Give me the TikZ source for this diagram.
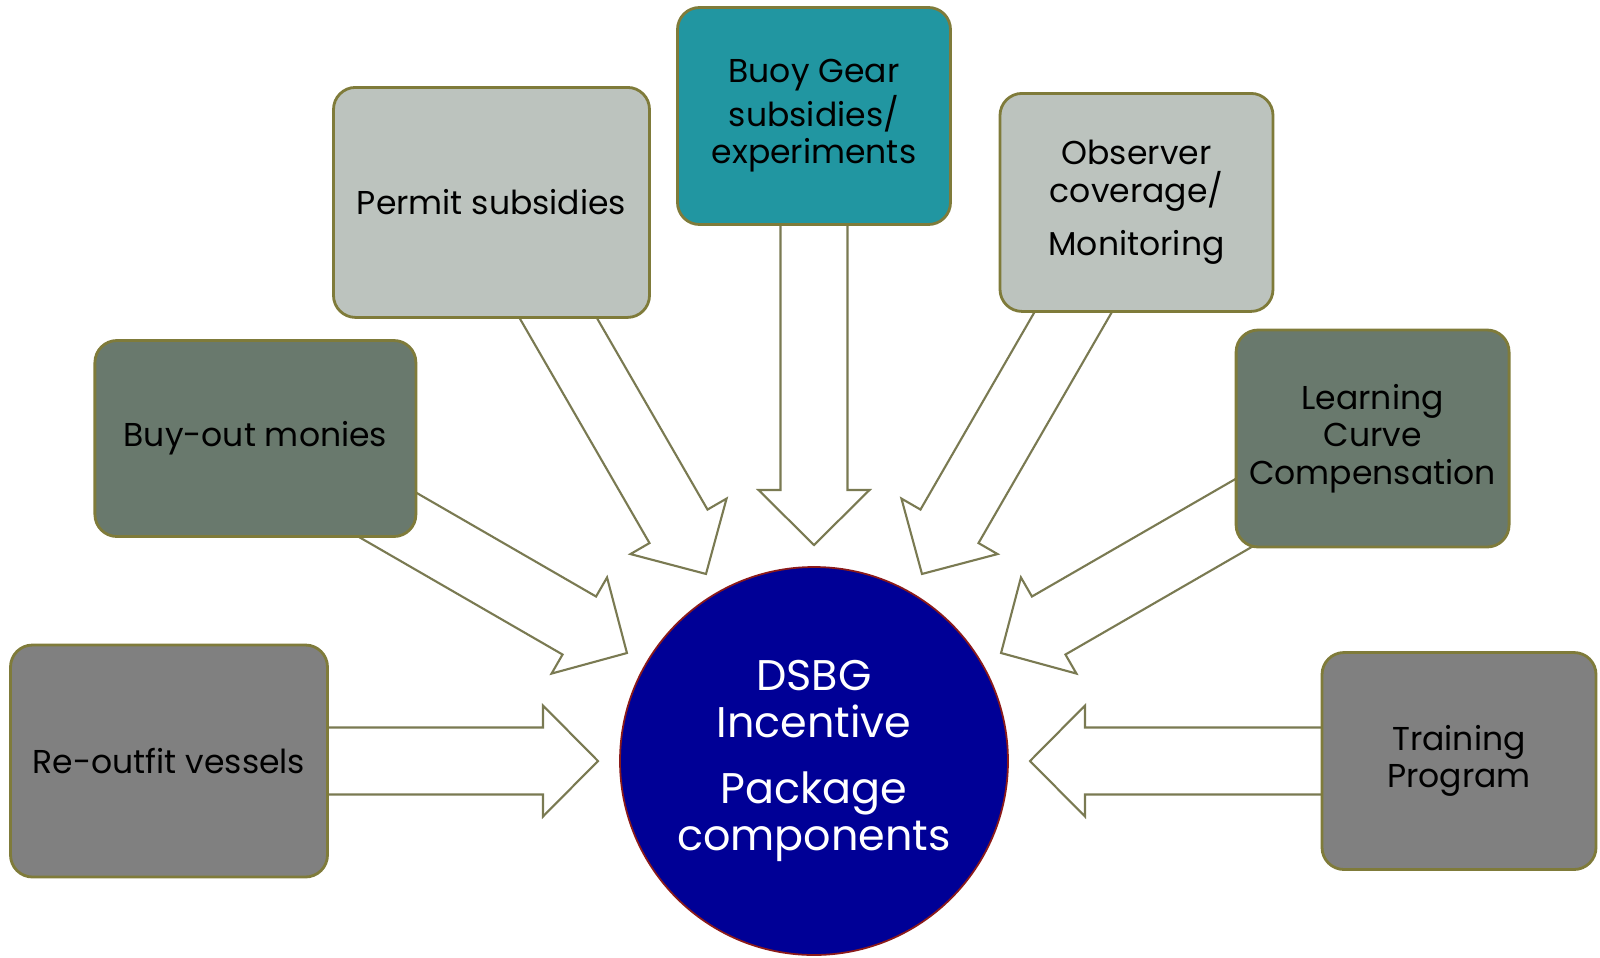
\documentclass[tikz,border=0pt]{standalone}
\usepackage{fontspec}
\setmainfont{Poppins}
\usepackage{tikz}
\usetikzlibrary{calc}
\usetikzlibrary{backgrounds}
\definecolor{boxline}{HTML}{7F7B3A}
\definecolor{arrowline}{HTML}{7A7A52}
\definecolor{midgray}{HTML}{808080}
\definecolor{sage}{HTML}{69796D}
\definecolor{mist}{HTML}{BCC3BE}
\definecolor{lagoon}{HTML}{2196A1}
\definecolor{deepnavy}{HTML}{000096}
\definecolor{rim}{HTML}{8B1A1A}

\begin{document}
\begin{tikzpicture}[box/.style={rectangle, rounded corners=0.22cm, draw=boxline, line width=0.8pt, align=center, inner sep=0pt, font=\fontsize{9.4}{10.7}\selectfont}, blockarr/.style={draw=arrowline, fill=white, line width=0.6pt, line join=miter}]
    \useasboundingbox (-8.14,-1.96) rectangle (7.86,7.61);
    \node[circle, fill=deepnavy, draw=rim, line width=0.5pt, minimum size=3.88cm, inner sep=0pt, text=white, align=center, font=\fontsize{12.2}{13.4}\selectfont] (hub) at (0,0) {DSBG\\Incentive\\[0.19cm]Package\\components};
    \node[box, fill=midgray, minimum width=3.17cm, minimum height=2.32cm] (reout) at (180:6.45) {Re-outfit vessels};
    \node[box, fill=sage, minimum width=3.21cm, minimum height=1.96cm] (buyout) at (150:6.45) {Buy-out monies};
    \node[box, fill=mist, minimum width=3.16cm, minimum height=2.30cm] (permit) at (120:6.45) {Permit subsidies};
    \node[box, fill=lagoon, minimum width=2.73cm, minimum height=2.17cm] (buoy) at (90:6.45) {Buoy Gear\\subsidies/\\experiments};
    \node[box, fill=mist, minimum width=2.73cm, minimum height=2.18cm] (observer) at (60:6.45) {Observer\\coverage/\\[0.16cm]Monitoring};
    \node[box, fill=sage, minimum width=2.73cm, minimum height=2.17cm] (learning) at (30:6.45) {Learning\\Curve\\Compensation};
    \node[box, fill=midgray, minimum width=2.74cm, minimum height=2.17cm] (training) at (0:6.45) {Training\\Program};
    \begin{scope}[on background layer]
        \foreach \b in {reout, buyout, permit, buoy, observer, learning, training} {
            \coordinate (tip) at ($(hub)!2.16cm!(\b)$);
            \coordinate (neck) at ($(tip)!0.55cm!(\b)$);
            \draw[blockarr] ($(\b)!0.335cm!90:(tip)$) -- ($(neck)!0.335cm!90:(tip)$) -- ($(neck)!0.555cm!90:(tip)$) -- (tip) -- ($(neck)!0.555cm!-90:(tip)$) -- ($(neck)!0.335cm!-90:(tip)$) -- ($(\b)!0.335cm!-90:(tip)$) -- cycle;
        }
    \end{scope}
\end{tikzpicture}
\end{document}
